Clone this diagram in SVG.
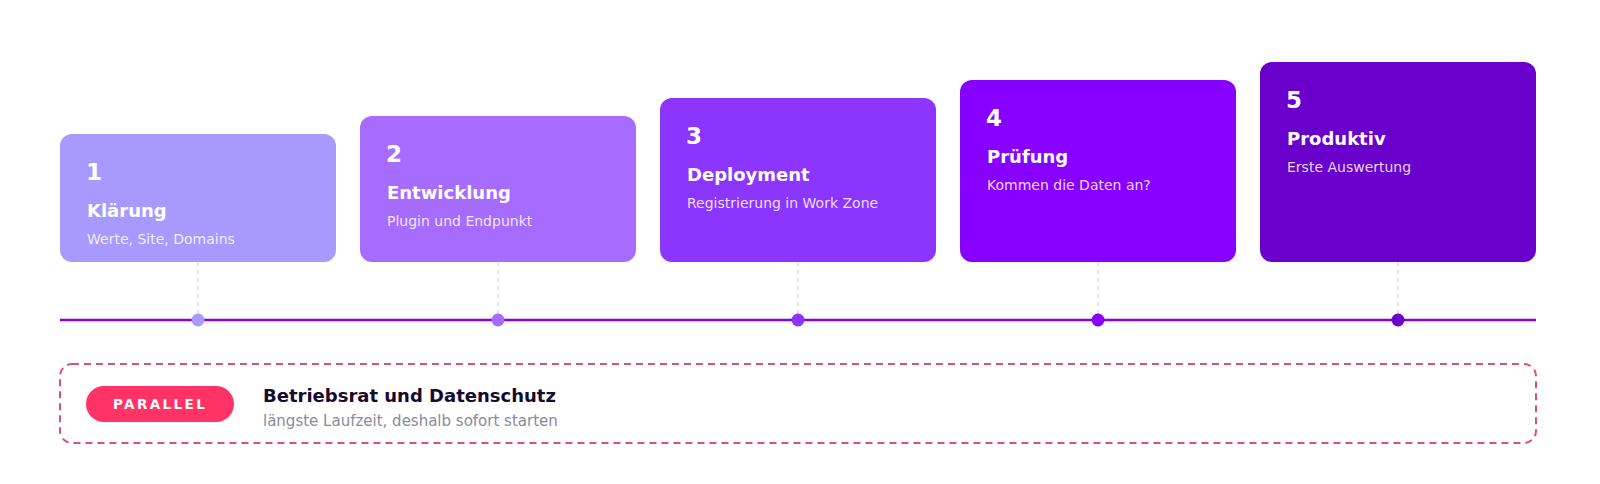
<svg xmlns="http://www.w3.org/2000/svg" width="1600" height="484" viewBox="0 0 1600 484">
<style>
.num{font-family:"DejaVu Sans","Noto Sans",sans-serif;font-weight:700;font-size:23px;fill:#ffffff}
.title{font-family:"DejaVu Sans","Noto Sans",sans-serif;font-weight:700;font-size:18px;fill:#ffffff}
.sub{font-family:"DejaVu Sans","Noto Sans",sans-serif;font-weight:400;font-size:14px;fill:#ffffff;fill-opacity:0.85}
.tick{stroke:#dcdce4;stroke-width:1.5;stroke-dasharray:4 4}
</style>
<rect width="1600" height="484" fill="#ffffff"/>
<g id="connectors">
<line x1="60" y1="320" x2="1536" y2="320" stroke="#8a00dc" stroke-width="2.5"/>
<line class="tick" x1="198" y1="262" x2="198" y2="314"/>
<line class="tick" x1="498" y1="262" x2="498" y2="314"/>
<line class="tick" x1="798" y1="262" x2="798" y2="314"/>
<line class="tick" x1="1098" y1="262" x2="1098" y2="314"/>
<line class="tick" x1="1398" y1="262" x2="1398" y2="314"/>
<circle cx="198" cy="320" r="6.5" fill="#a899fe"/>
<circle cx="498" cy="320" r="6.5" fill="#a66cff"/>
<circle cx="798" cy="320" r="6.5" fill="#8c35ff"/>
<circle cx="1098" cy="320" r="6.5" fill="#8800ff"/>
<circle cx="1398" cy="320" r="6.5" fill="#6a00cc"/>
</g>
<g id="step1">
<rect x="60" y="134" width="276" height="128" rx="12" fill="#a899fe"/>
<text class="num" x="86" y="180">1</text>
<text class="title" x="87" y="217">Klärung</text>
<text class="sub" x="87" y="244">Werte, Site, Domains</text>
</g>
<g id="step2">
<rect x="360" y="116" width="276" height="146" rx="12" fill="#a66cff"/>
<text class="num" x="386" y="162">2</text>
<text class="title" x="387" y="199">Entwicklung</text>
<text class="sub" x="387" y="226">Plugin und Endpunkt</text>
</g>
<g id="step3">
<rect x="660" y="98" width="276" height="164" rx="12" fill="#8c35ff"/>
<text class="num" x="686" y="144">3</text>
<text class="title" x="687" y="181">Deployment</text>
<text class="sub" x="687" y="208">Registrierung in Work Zone</text>
</g>
<g id="step4">
<rect x="960" y="80" width="276" height="182" rx="12" fill="#8800ff"/>
<text class="num" x="986" y="126">4</text>
<text class="title" x="987" y="163">Prüfung</text>
<text class="sub" x="987" y="190">Kommen die Daten an?</text>
</g>
<g id="step5">
<rect x="1260" y="62" width="276" height="200" rx="12" fill="#6a00cc"/>
<text class="num" x="1286" y="108">5</text>
<text class="title" x="1287" y="145">Produktiv</text>
<text class="sub" x="1287" y="172">Erste Auswertung</text>
</g>
<g id="parallel">
<rect x="60" y="364" width="1476" height="79" rx="12" fill="none" stroke="#d9507a" stroke-width="2" stroke-dasharray="7 5"/>
<rect x="86" y="386" width="148" height="36" rx="18" fill="#ff3366"/>
<text x="113" y="409" font-family="'DejaVu Sans','Noto Sans',sans-serif" font-weight="700" font-size="13.5" letter-spacing="2.4" fill="#ffffff">PARALLEL</text>
<text x="263" y="402" font-family="'DejaVu Sans','Noto Sans',sans-serif" font-weight="700" font-size="18" fill="#160a2e">Betriebsrat und Datenschutz</text>
<text x="263" y="426" font-family="'DejaVu Sans','Noto Sans',sans-serif" font-size="15" fill="#8a8a99">längste Laufzeit, deshalb sofort starten</text>
</g>
</svg>
